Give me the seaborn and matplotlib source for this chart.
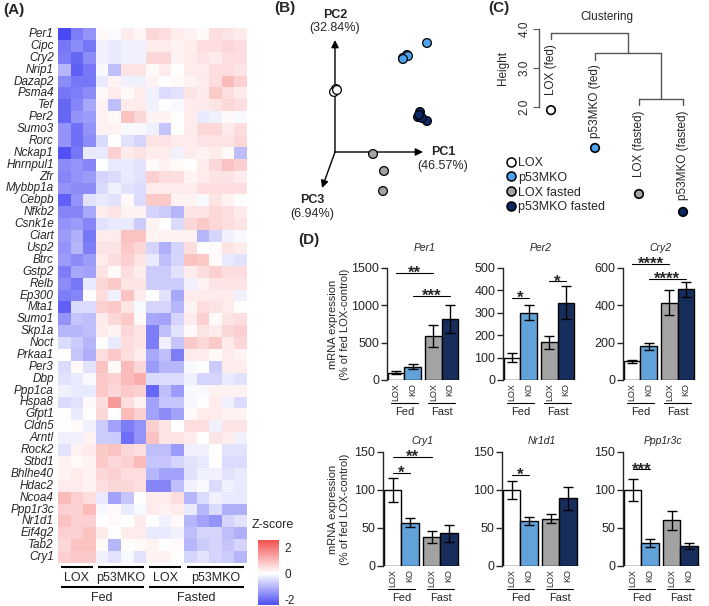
import numpy as np
import pandas as pd
import seaborn as sns
import matplotlib.pyplot as plt
from matplotlib.colors import LinearSegmentedColormap
from matplotlib.lines import Line2D

# ---------------- data ----------------
genes = ["Per1", "Cipc", "Cry2", "Nrip1", "Dazap2", "Psma4", "Tef", "Per2", "Sumo3",
         "Rorc", "Nckap1", "Hnrnpul1", "Zfr", "Mybbp1a", "Cebpb", "Nfkb2", "Csnk1e",
         "Ciart", "Usp2", "Btrc", "Gstp2", "Relb", "Ep300", "Mta1", "Sumo1", "Skp1a",
         "Noct", "Prkaa1", "Per3", "Dbp", "Ppp1ca", "Hspa8", "Gfpt1", "Cldn5", "Arntl",
         "Rock2", "Stbd1", "Bhlhe40", "Hdac2", "Ncoa4", "Ppp1r3c", "Nr1d1", "Eif4g2",
         "Tab2", "Cry1"]
sample_groups = ["LOX", "p53MKO", "LOX", "p53MKO"]
group_sizes = [3, 4, 3, 5]
conditions = ["Fed", "Fasted"]
condition_sizes = [7, 8]

# z-scores, one row per gene, 15 samples
zscore = [
    [-2.5, -1.8, -1.5, 0.1, -0.05, 0.3, 0.15, 0.6, 0.5, 0.3, 0.2, 0.1, 0.5, 0.4, 0.3],
    [-1.9, -1.6, -1.9, -0.2, -0.3, -0.2, -0.2, 0.3, 0.3, 0.2, 0.3, 0.5, 0.5, 0.6, 0.5],
    [-1.8, -2.1, -1.6, -0.2, -0.3, -0.2, -0.2, 0.6, 0.6, 0.2, 0.3, 0.4, 0.3, 0.5, 0.5],
    [-1.0, -2.2, -1.9, -0.1, -0.9, 0.4, 0.4, 0.1, 0.3, 0.0, 0.3, 0.3, 0.5, 0.5, 0.4],
    [-1.6, -1.9, -1.9, -0.3, 0.2, -0.2, -0.2, 0.2, 0.0, 0.1, 0.2, 0.3, 0.5, 1.0, 0.7],
    [-1.9, -1.8, -1.6, 0.1, 0.3, 0.1, 0.3, -0.2, -0.5, -0.4, 0.4, 0.3, 0.8, 0.5, 0.3],
    [-2.1, -1.7, -1.2, 0.2, -0.9, 0.3, 0.3, -0.2, 0.0, -0.1, 0.3, 0.3, 0.4, 0.6, 0.5],
    [-2.1, -1.5, -1.4, 0.2, 0.1, 0.9, 0.6, 0.2, 0.2, 0.0, 0.3, -0.3, -0.2, 0.1, -0.1],
    [-1.5, -2.0, -1.5, 0.2, 0.2, -0.1, -0.1, -0.2, -0.8, 0.0, 0.3, 0.6, 0.6, 0.3, 0.5],
    [-1.5, -2.0, -1.6, -0.5, 0.0, -0.4, -0.6, 0.4, 0.4, 0.3, 0.3, 0.4, 0.4, 0.4, 0.6],
    [-2.4, -1.9, -0.3, -0.3, 0.7, 0.3, 0.4, 0.3, 0.3, -0.2, 0.3, 0.2, 0.3, 0.1, -0.9],
    [-1.6, -1.5, -1.7, 0.0, -0.3, -0.3, -0.4, 0.1, 0.2, 0.1, 0.0, 0.3, 0.6, 0.9, 0.7],
    [-1.7, -1.5, -1.4, -0.6, -0.5, -0.3, -0.4, 0.7, 0.5, 0.5, 0.2, 0.3, 0.4, 0.4, 0.3],
    [-1.5, -1.6, -1.6, -0.5, -0.2, -0.4, -0.5, 0.3, 0.3, 0.3, 0.3, 0.5, 0.5, 0.5, 0.5],
    [-2.2, -1.5, -0.4, -0.3, -0.4, 0.1, -0.5, 0.8, 0.8, 0.2, 0.2, -0.1, 0.4, 0.2, 0.0],
    [-1.7, -1.7, -1.2, 0.3, 0.4, 0.2, 0.2, -0.6, -0.7, -1.0, 0.4, 0.4, 0.6, 0.5, 0.3],
    [-1.5, -1.4, -1.7, -0.4, -0.3, -0.3, -0.7, 0.2, 0.0, -0.5, 0.6, 0.8, 0.6, 0.5, 0.4],
    [-1.4, -1.1, -1.9, 0.3, 0.3, 0.9, 0.9, 0.2, 0.2, 0.2, 0.2, -1.0, -0.6, -0.2, -0.1],
    [-1.5, -1.0, -1.8, 0.4, 0.4, 0.8, 0.6, -0.6, -1.1, -0.6, 0.5, 0.0, 0.1, 0.4, 0.3],
    [-1.4, -1.6, -1.4, 0.3, 0.5, 0.7, 0.4, -0.3, -0.9, -0.6, 0.9, 0.8, 0.1, -0.3, -0.4],
    [-1.8, -1.2, -1.3, 0.4, 0.1, 0.5, 0.3, -0.7, -0.7, -0.4, 0.3, 0.5, 0.7, 0.5, 0.5],
    [-1.6, -1.9, -0.3, 0.6, 0.8, 0.4, 0.4, -0.7, -0.7, -0.7, -0.2, 0.2, 0.4, 0.4, 0.4],
    [-1.8, -1.7, 0.0, 0.5, -0.2, 0.9, 0.3, 0.0, -0.4, -1.2, 0.3, 0.3, 0.3, 0.3, -0.2],
    [-2.2, -0.5, -0.5, 0.7, 0.8, 0.4, -0.1, -0.6, -0.6, -1.0, 0.2, 0.5, 0.4, 0.3, 0.0],
    [-1.5, -0.8, -0.9, 0.3, 0.6, 0.8, 0.1, -1.2, -1.3, -0.6, 0.3, 0.7, 0.1, 0.4, 0.5],
    [-1.0, -1.0, -0.9, 0.3, 0.2, 0.6, 0.4, -1.8, -0.9, -0.4, 0.1, 0.4, 0.3, 0.6, 0.7],
    [-0.5, -0.7, -1.0, 0.0, -0.3, 0.5, 0.4, -1.8, -0.2, -0.8, 0.8, 0.6, 0.8, 0.3, 0.6],
    [0.0, -0.8, -1.1, 0.5, 0.8, 0.5, 0.3, -1.2, -0.9, -1.8, 0.3, 0.3, 0.1, 0.3, 0.2],
    [-0.5, 0.1, -0.4, 0.9, 0.1, 1.0, 0.6, -1.4, -1.0, -1.0, -0.1, 0.0, -0.7, 0.3, 0.3],
    [-0.4, -0.3, -0.1, 0.8, 0.7, 1.0, 1.2, -0.5, -0.5, -0.5, -0.2, -0.6, -0.6, -0.3, -0.4],
    [-0.2, -0.3, -0.3, 0.8, 0.6, 0.8, 0.7, -2.1, -0.9, -1.4, -0.1, -0.1, 0.2, 0.2, 0.2],
    [-0.5, -0.4, 0.1, 0.5, 1.5, 0.5, 0.2, -1.3, -0.8, -0.8, -0.1, 0.0, 0.3, -0.2, -0.5],
    [0.0, -0.3, 0.0, 0.6, 0.0, 1.0, 0.7, -1.3, -1.6, -1.3, 0.1, 0.3, 0.3, 0.2, 0.2],
    [0.0, 0.1, -0.2, -0.7, -1.3, -1.8, -1.5, 0.7, 0.4, 0.0, 0.5, 0.5, -0.2, 0.4, 0.4],
    [-0.2, -0.2, 0.2, -0.7, -0.7, -2.0, -1.5, 0.9, 0.4, 0.4, 0.3, 0.0, 0.4, 0.3, -0.2],
    [-0.4, 0.2, 0.3, 0.8, 0.9, 0.6, 0.5, -0.9, -0.9, -1.4, -0.2, -0.2, 0.0, -0.4, -0.4],
    [0.2, 0.1, 0.2, 0.8, 0.6, 0.7, 1.0, -0.8, -0.8, -0.6, -0.4, -0.3, 0.0, -0.5, -0.5],
    [0.2, 0.3, 0.2, 0.6, 0.7, 0.5, 0.5, -1.0, -1.3, -1.3, -0.4, -0.2, -0.2, -0.4, -0.3],
    [0.3, 0.3, 0.2, 0.5, 0.6, 0.6, 0.5, -1.7, -1.7, -0.9, -0.2, -0.1, -0.5, -0.2, -0.3],
    [1.0, 0.7, 0.5, -0.3, -1.3, -0.8, 0.0, 0.3, 0.3, 0.5, -1.0, -0.5, -0.2, -0.3, -0.3],
    [0.7, 0.7, 1.0, -0.1, 0.1, -0.3, -0.1, 0.3, 0.2, 0.3, -0.3, -1.0, -0.5, -1.1, -1.1],
    [0.9, 0.7, 0.7, 0.0, 0.1, 0.0, 0.3, 0.0, -0.2, 0.1, -1.0, -1.3, -1.5, -0.6, -0.4],
    [0.7, 0.7, 0.9, 0.3, 0.0, 0.3, 0.3, -0.3, -0.3, -0.2, -0.9, -0.6, -0.6, -0.9, -1.1],
    [0.6, 0.9, 0.9, 0.1, -1.0, 0.0, 0.1, 0.2, 0.0, 0.1, -1.0, -0.7, -0.6, -0.8, -0.6],
    [0.7, 0.8, 0.8, -0.2, -0.4, -0.1, -0.4, 0.2, 0.2, 0.0, -0.6, -0.4, -0.6, -0.7, -1.0],
]

# PCA, positions as drawn on the projected 3-axis frame
pca_group = ["LOX"] * 3 + ["p53MKO"] * 5 + ["p53MKO fasted"] * 5 + ["LOX fasted"] * 3
pca_x = [1, -1, 2, 92, 68, 72, 73, 68, 85, 83, 92, 87, 84, 38, 49, 48]
pca_y = [63, 60, 62, 109, 94, 97, 96, 93, 40, 35, 31, 34, 37, -2, -19, -39]
pc_names = ["PC1", "PC2", "PC3"]
pc_var = ["(46.57%)", "(32.84%)", "(6.94%)"]
pc_end_x = [88, 0, -13]
pc_end_y = [0, 112, -36]

# hierarchical clustering
leaf_names = ["LOX (fed)", "p53MKO (fed)", "LOX (fasted)", "p53MKO (fasted)"]
leaf_groups = ["LOX", "p53MKO", "LOX fasted", "p53MKO fasted"]
merge_pairs = [(2, 3), (1, 4), (0, 5)]
merge_heights = [2.21, 3.38, 3.91]
leaf_dot_height = [1.92, 0.95, -0.23, -0.69]

# qPCR
bar_labels = ["LOX", "KO", "LOX", "KO"]
bar_groups = ["LOX", "p53MKO", "LOX fasted", "p53MKO fasted"]
bar_pos = [0, 1, 2.25, 3.25]
qpcr_genes = ["Per1", "Per2", "Cry2", "Cry1", "Nr1d1", "Ppp1r3c"]
per1_mean, per1_sem = [100, 180, 590, 820], [22, 38, 145, 185]
per2_mean, per2_sem = [100, 300, 168, 345], [20, 33, 28, 73]
cry2_mean, cry2_sem = [100, 180, 415, 485], [8, 20, 65, 40]
cry1_mean, cry1_sem = [100, 57, 38, 43], [16, 6, 8, 11]
nr1d1_mean, nr1d1_sem = [100, 59, 62, 89], [12, 5, 6, 15]
ppp1r3c_mean, ppp1r3c_sem = [100, 30, 60, 26], [15, 5, 12, 4]
y_max = [1500, 500, 600, 150, 150, 150]
y_step = [500, 100, 200, 50, 50, 50]
# (bar a, bar b, height, label)
per1_sig = [(0, 2, 1430, "**"), (1, 3, 1125, "***")]
per2_sig = [(0, 1, 365, "*"), (2, 3, 440, "*")]
cry2_sig = [(0, 2, 623, "****"), (1, 3, 540, "****")]
cry1_sig = [(0, 1, 122, "*"), (0, 2, 143, "**")]
nr1d1_sig = [(0, 1, 120, "*")]
ppp1r3c_sig = [(0, 1, 127, "***")]

palette = {"LOX": "#FFFFFF", "p53MKO": "#4EA3EE", "LOX fasted": "#A3A3A3",
           "p53MKO fasted": "#0C2966"}

# ---------------- figure ----------------
sns.set_style("white")
plt.rcParams["font.family"] = ["Liberation Sans", "DejaVu Sans"]
plt.rcParams["axes.linewidth"] = 1.0

W, H = 709, 606
fig = plt.figure(figsize=(W / 100, H / 100), dpi=100)


def box(x0, y0, x1, y1):
    return [x0 / W, 1 - y1 / H, (x1 - x0) / W, (y1 - y0) / H]


# panel labels
for lab, x, y in [("(A)", 3, 10), ("(B)", 274, 8), ("(C)", 488, 8), ("(D)", 298, 240)]:
    fig.text(x / W, 1 - y / H, lab, fontsize=11, fontweight="bold", va="center", ha="left")

# ---- (A) heatmap ----
cmap = LinearSegmentedColormap.from_list("bwr_soft", ["#4444F4", "#FFFFFF", "#F45050"])
ax_hm = fig.add_axes(box(58, 28, 247, 563))
ax_cb = fig.add_axes(box(258, 540, 279, 605))
df_hm = pd.DataFrame(zscore, index=genes)
sns.heatmap(df_hm, ax=ax_hm, cmap=cmap, vmin=-2.6, vmax=2.6, cbar_ax=ax_cb,
            xticklabels=False, yticklabels=True)
ax_hm.tick_params(axis="y", length=0, pad=3, labelsize=8.5)
for t in ax_hm.get_yticklabels():
    t.set_style("italic")
    t.set_rotation(0)

cb = ax_hm.collections[0].colorbar
cb.ax.set_ylim(-2.45, 2.6)
cb.set_ticks([-2, 0, 2])
cb.set_ticklabels(["-2", "0", "2"])
cb.outline.set_visible(False)
cb.ax.tick_params(labelsize=8.5, length=3, direction="in", color="white", pad=4)
fig.text(252 / W, 1 - 525 / H, "Z-score", fontsize=9, va="center", ha="left")

start = 0
for name, n in zip(sample_groups, group_sizes):
    ax_hm.plot([start + 0.2, start + n - 0.2], [45.35, 45.35], color="black", lw=1.5,
               clip_on=False, solid_capstyle="butt")
    ax_hm.text(start + n / 2, 46.25, name, ha="center", va="center", fontsize=9)
    start += n
start = 0
for name, n in zip(conditions, condition_sizes):
    ax_hm.plot([start + 0.2, start + n - 0.2], [47.05, 47.05], color="black", lw=1.5,
               clip_on=False, solid_capstyle="butt")
    ax_hm.text(start + n / 2, 47.95, name, ha="center", va="center", fontsize=9)
    start += n

# ---- (B) PCA ----
ax_pca = fig.add_axes(box(290, 5, 470, 225))
ax_pca.set_xlim(-45, 135)
ax_pca.set_ylim(-73, 147)
ax_pca.axis("off")
for ex, ey in zip(pc_end_x, pc_end_y):
    ax_pca.annotate("", xy=(ex, ey), xytext=(0, 0),
                    arrowprops=dict(arrowstyle="-|>", color="black", lw=1, mutation_scale=11,
                                    shrinkA=0, shrinkB=0))
pc_label_pos = [(108, 0), (0, 137), (-23, -48)]
for (lx, ly), nm, var in zip(pc_label_pos, pc_names, pc_var):
    ax_pca.text(lx, ly, nm, ha="center", va="center", fontsize=9, fontweight="bold")
    ax_pca.text(lx, ly - 13.5, var, ha="center", va="center", fontsize=9)
df_pca = pd.DataFrame({"x": pca_x, "y": pca_y, "group": pca_group})
sns.scatterplot(data=df_pca, x="x", y="y", hue="group", palette=palette, s=40,
                edgecolor="black", linewidth=0.9, legend=False, ax=ax_pca, zorder=3)

# ---- (C) clustering ----
ax_cl = fig.add_axes(box(539, 20, 700, 220))
ax_cl.set_xlim(1 + (539 - 551) / 44, 1 + (700 - 551) / 44)
ax_cl.set_ylim(2.0 - (220 - 107) / 39, 4.0 + (29 - 20) / 39)
hang = 0.17
node_x = {i: i + 1 for i in range(4)}
node_top = {}
leaf_bottom = {}
for k, ((a, b), h) in enumerate(zip(merge_pairs, merge_heights)):
    for c in (a, b):
        if c in node_top:
            bottom = node_top[c]
        else:
            bottom = h - hang
            leaf_bottom[c] = bottom
        ax_cl.plot([node_x[c], node_x[c]], [h, bottom], color="#555555", lw=1)
    ax_cl.plot([node_x[a], node_x[b]], [h, h], color="#555555", lw=1)
    node_x[4 + k] = (node_x[a] + node_x[b]) / 2
    node_top[4 + k] = h
for i, nm in enumerate(leaf_names):
    ax_cl.text(node_x[i], leaf_bottom[i] - 0.12, nm, rotation=90, ha="center", va="top",
               fontsize=8.5)
ax_cl.scatter([node_x[i] for i in range(4)], leaf_dot_height,
              c=[palette[g] for g in leaf_groups], s=38, edgecolor="black",
              linewidth=1.2, zorder=3, clip_on=False)
for sp in ["top", "right", "bottom"]:
    ax_cl.spines[sp].set_visible(False)
ax_cl.spines["left"].set_bounds(2, 4)
ax_cl.spines["left"].set_color("#555555")
ax_cl.set_xticks([])
ax_cl.set_yticks([2, 3, 4])
ax_cl.set_yticklabels(["2.0", "3.0", "4.0"], rotation=90, va="center", fontsize=8.5)
ax_cl.tick_params(axis="y", length=4, color="#555555", pad=2, left=True)
ax_cl.set_ylabel("Height", fontsize=8.5, labelpad=4)
ax_cl.yaxis.set_label_coords(-30 / 161, (1 - (68 - 20) / 200))
fig.text(607 / W, 1 - 17 / H, "Clustering", fontsize=8.5, ha="center", va="center")

handles = [Line2D([], [], ls="", marker="o", markersize=6.5, markerfacecolor=palette[g],
                  markeredgecolor="black", markeredgewidth=1.1) for g in bar_groups]
fig.legend(handles, bar_groups, loc="upper left", bbox_to_anchor=(505 / W, 1 - 157 / H),
           frameon=False, fontsize=9, handletextpad=0.05, labelspacing=0.22,
           borderaxespad=0, borderpad=0, handlelength=1.0)

# ---- (D) qPCR bars ----
panels = [
    (qpcr_genes[0], per1_mean, per1_sem, per1_sig, (387, 268, 462, 380)),
    (qpcr_genes[1], per2_mean, per2_sem, per2_sig, (503, 268, 578, 380)),
    (qpcr_genes[2], cry2_mean, cry2_sem, cry2_sig, (623, 268, 698, 380)),
    (qpcr_genes[3], cry1_mean, cry1_sem, cry1_sig, (383, 452, 462, 566)),
    (qpcr_genes[4], nr1d1_mean, nr1d1_sem, nr1d1_sig, (502, 452, 581, 566)),
    (qpcr_genes[5], ppp1r3c_mean, ppp1r3c_sem, ppp1r3c_sig, (623, 452, 702, 566)),
]
for idx, (gene, mean, sem, sig, (x0, y0, x1, y1)) in enumerate(panels):
    ax = fig.add_axes(box(x0, y0, x1, y1))
    df = pd.DataFrame({"pos": bar_pos, "value": mean, "group": bar_groups})
    sns.barplot(data=df, x="pos", y="value", hue="group", palette=palette,
                native_scale=True, width=1, edgecolor="black", linewidth=1,
                errorbar=None, legend=False, ax=ax)
    ax.errorbar(bar_pos, mean, yerr=sem, fmt="none", ecolor="black", elinewidth=1,
                capsize=3.5, capthick=1, zorder=4)
    ax.set_xlim(-0.56, 3.99)
    ax.set_ylim(0, y_max[idx])
    ax.set_yticks(np.arange(0, y_max[idx] + 1, y_step[idx]))
    ax.set_xticks(bar_pos)
    ax.set_xticklabels(bar_labels, rotation=90, fontsize=6.5)
    ax.tick_params(axis="x", length=0, pad=2)
    ax.tick_params(axis="y", labelsize=9, length=4, width=1, pad=1.5, left=True)
    ax.set_xlabel("")
    ax.set_ylabel("")
    for sp in ["top", "right", "bottom"]:
        ax.spines[sp].set_visible(False)
    ax.set_title(gene, fontsize=7.5, style="italic", pad=12.5 if idx < 3 else 6)

    hpx = y1 - y0
    tr = ax.get_xaxis_transform()
    for nm, a, b in [("Fed", 0, 1), ("Fast", 2, 3)]:
        ax.plot([bar_pos[a] - 0.3, bar_pos[b] + 0.3], [-23 / hpx] * 2, color="black",
                lw=0.8, transform=tr, clip_on=False)
        ax.text((bar_pos[a] + bar_pos[b]) / 2, -32 / hpx, nm, transform=tr,
                ha="center", va="center", fontsize=8)
    for a, b, yv, stars in sig:
        ax.plot([bar_pos[a], bar_pos[b]], [yv, yv], color="black", lw=0.8, clip_on=False)
        ax.annotate(stars, xy=((bar_pos[a] + bar_pos[b]) / 2, yv), xytext=(0, -3.5),
                    textcoords="offset points", ha="center", va="baseline",
                    fontsize=12, fontweight="bold", annotation_clip=False)

for yc in [324, 509]:
    fig.text(339 / W, 1 - yc / H, "mRNA expression\n(% of fed LOX-control)", rotation=90,
             ha="center", va="center", fontsize=8, multialignment="center")

fig.savefig("out.png", dpi=100)
